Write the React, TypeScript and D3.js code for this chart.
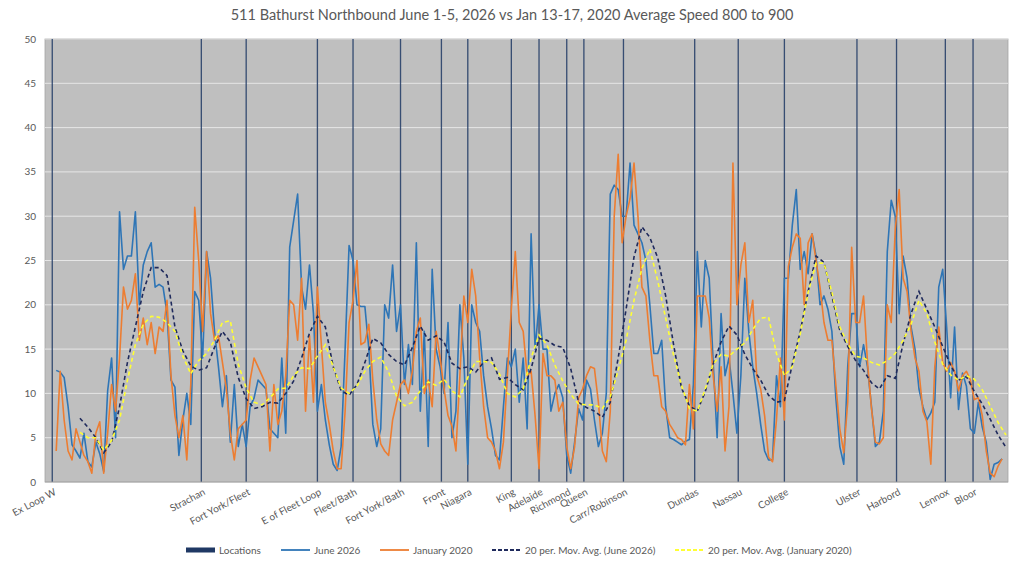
import React from "react";
import * as d3 from "d3";

// readings every 3rd segment, starting at segment 8
const june2026 = [
  12.6, 12.4, 11.8, 8.5, 4.2, 3.5, 2.7, 5.5, 2.3, 1.7,
  4.5, 3.2, 1.2, 10.3, 14, 5, 30.5, 24, 25.5, 25.5,
  30.5, 20, 24.5, 26, 27, 22, 22.3, 22, 19, 11.5,
  10.7, 3, 7, 10, 6.5, 21.5, 20.5, 14, 26, 23,
  17, 13, 8.5, 12, 4.5, 11, 4, 6.5, 4, 8.5,
  9.5, 11.5, 11, 10.5, 6, 5.5, 5, 14, 5.5, 26.5,
  29.5, 32.5, 22, 19.5, 24.5, 19, 8, 11, 7, 4.2,
  2, 1.3, 4, 15, 26.7, 25, 20, 19.8, 19.8, 15,
  6.5, 4, 6, 20, 18.5, 24.5, 17, 20, 11, 15.5,
  11, 27, 8, 17, 4, 24, 15, 13, 10, 18,
  5, 8, 20, 14, 2, 20, 18, 17, 12, 8.5,
  6, 3, 2.5, 8.5, 14, 13, 15, 9, 14, 6,
  28, 15, 20, 15, 15, 8, 10, 11, 9.5, 3,
  1, 4.5, 8.3, 7, 11.5, 10.5, 7, 4, 5.5, 10,
  32.5, 33.5, 33, 30, 30, 36, 29, 28, 27, 25,
  20, 14.5, 14.5, 16, 8.5, 5, 4.8, 4.5, 4.2, 4.6,
  4.8, 11, 26, 17.5, 25, 23, 13.5, 5, 19, 12,
  14, 10, 5.5, 12, 23, 17, 13, 10, 6.5, 3.5,
  2.5, 2.5, 12, 8.5, 23, 23, 29, 33, 24, 26,
  23.5, 28, 25.5, 20, 21, 19.5, 17, 9.5, 4, 2,
  13, 19, 19, 13, 15.5, 13, 8.5, 4, 4.5, 8,
  26, 31.8, 30, 19, 25.5, 23, 17.5, 15, 10.5, 8.5,
  7, 7.8, 9, 22, 24, 17.5, 9.5, 17.5, 8.2, 12.3,
  10.8, 6, 5.5, 9, 6.2, 4.5, 0.3, 2, 2.2, 2.6,
];

const january2020 = [
  3.5, 12.5, 7, 3.5, 2.5, 6, 4.5, 3, 2.3, 1,
  5.5, 6.8, 1, 5.5, 11, 8, 14, 22, 19.5, 20.5,
  23.5, 16, 18.5, 15.5, 18, 14.5, 17.5, 17, 20.5, 12,
  7.5, 5, 7.5, 2.5, 11, 31, 25, 17, 26, 19,
  16, 16.5, 13.5, 10.5, 5.5, 2.5, 6, 6.5, 7, 11.5,
  14, 13, 12, 11, 3.5, 11, 6.5, 8, 12, 20.5,
  20, 16, 23, 8, 16.5, 9, 22, 15.5, 9, 6.5,
  3.5, 1.5, 1.5, 8, 18, 20.5, 25, 15.5, 15.8, 17.8,
  11.5, 7, 4.3, 3.5, 3, 7, 9, 11, 11.5, 10,
  12.5, 17, 18.5, 10, 11.5, 8.5, 17, 14, 10.5, 7.5,
  6.3, 3.5, 12, 21, 18, 24, 21, 14, 8.5, 5,
  4.5, 3.5, 1.5, 4.5, 12, 19.5, 26, 18, 17, 12,
  12.5, 7.5, 1.5, 14.5, 12, 12, 11.5, 8, 9, 4,
  1.5, 4, 9.5, 10.5, 12, 13, 12.8, 9, 3.5, 2.3,
  8, 30, 37, 27, 30, 32, 36, 30, 22, 21,
  16, 12, 12, 8.5, 8, 6.5, 5.8, 5, 4.8, 4.2,
  11, 6, 21, 21, 21, 18.5, 12, 8, 13, 3.5,
  8.5, 36, 20, 24.5, 27, 18, 20.5, 12, 10.5, 7.5,
  2.8, 2.3, 7, 14, 7, 24.3, 26.5, 28, 27.5, 20,
  27, 28, 25, 22, 18, 16, 16, 11, 6, 3.3,
  9, 26.5, 18, 18, 21, 13.5, 8.3, 4.5, 4.3, 5,
  20, 18, 28.5, 33, 23, 21.5, 17, 14, 12.5, 8,
  6.8, 2, 13, 17.5, 13.5, 12.5, 13.5, 12.5, 10.3, 12,
  12.5, 11.5, 9.3, 9.5, 7.5, 3.5, 1, 0.6, 1.8, 2.6,
];

// moving averages read every 6th segment, starting at segment 26
const maJune2026 = [
  7.2, 6.2, 5, 3.3, 4.5, 8.5, 13.5, 17.5, 21.5, 24.2,
  24.2, 23.3, 17.5, 14.8, 13.1, 12.6, 12.9, 15.2, 17, 15.8,
  11.8, 9.4, 8.3, 8.5, 9, 8.9, 10, 11.4, 14, 16.8,
  18.7, 17.5, 13, 10.3, 9.8, 11, 13.5, 16.2, 15.7, 14.4,
  13.6, 13.2, 15.2, 17.6, 16, 16.5, 15.8, 13.4, 12.8, 13,
  12.4, 13.5, 14, 11.6, 11.8, 11, 10.4, 12.8, 16.2, 16,
  15.4, 15.2, 12.8, 9, 8.4, 8, 7.3, 9, 14, 19.5,
  25.4, 28.8, 27.6, 25.3, 21, 15.5, 10.6, 8.6, 8, 10.2,
  13.3, 15.8, 17.6, 16.6, 14.4, 12.8, 11.5, 9.8, 9, 9.2,
  13.3, 17, 21.5, 25.5, 24.8, 21, 17.1, 15.3, 13.7, 12.6,
  11.2, 10.5, 12, 11.7, 15.6, 19, 21.5, 19.5, 17.5, 15.3,
  13.2, 11.5, 11.9, 10.2, 8.8, 7.1, 5.3, 3.9,
];

const maJanuary2020 = [
  5.6, 5, 5, 3.6, 4.7, 7, 11.5, 15.5, 17.8, 18.7,
  18.6, 18, 17, 14.2, 12.2, 13.7, 14.5, 16, 18, 18.2,
  13.3, 10.6, 9, 8.7, 9.5, 10.5, 10.6, 12, 12.9, 12.8,
  14.2, 15.5, 13, 10.6, 10, 10.8, 12.5, 13.6, 14.1, 12.4,
  9.7, 8.6, 9, 10.3, 11.3, 10.9, 11.6, 10.3, 9.6, 11.8,
  13.6, 13.6, 13.5, 12.2, 10, 9.6, 10.5, 14, 16.6, 15.5,
  13.2, 11.4, 9.9, 8.8, 8.7, 8.7, 8.3, 9.6, 12.6, 16,
  20.5, 24.1, 26.3, 22.7, 18.5, 14.3, 10.9, 8.3, 8, 10.5,
  13.3, 14.4, 14.2, 15, 15.7, 17.2, 18.5, 18.6, 14.5, 12,
  13, 16.7, 21.4, 24.7, 24.7, 21.4, 17.5, 15.6, 14.2, 14,
  13.5, 13.2, 13.7, 14.5, 16, 17.8, 20.5, 19, 15.8, 13.3,
  12.1, 11.5, 12, 11.6, 10.4, 8.6, 6.7, 5.3,
];

const locationNames = [
  "Ex Loop W", "Strachan", "Fort York/Fleet", "E of Fleet Loop", "Fleet/Bath",
  "Fort York/Bath", "Front", "Niagara", "King", "Adelaide", "Richmond", "Queen",
  "Carr/Robinson", "Dundas", "Nassau", "College", "Ulster", "Harbord", "Lennox", "Bloor",
];
const locationSegments = [
  5, 118, 152, 206, 233, 269, 300, 320, 353, 374, 395, 408,
  438, 492, 525, 560, 615, 645, 682, 703,
];

const yTicks = [0, 5, 10, 15, 20, 25, 30, 35, 40, 45, 50];
const SEGMENTS = 730;

const W = 1024;
const H = 562;
const left = 45;
const right = 1008;
const top = 39;
const bottom = 482;
const font = "Lato, 'Open Sans', sans-serif";
const textColor = "#595959";

const App: React.FC = () => {
  const x = d3.scaleLinear().domain([-0.5, SEGMENTS - 0.5]).range([left, right]);
  const y = d3.scaleLinear().domain([0, 50]).range([bottom, top]);
  const band = (right - left) / SEGMENTS;

  const rawLine = d3
    .line<number>()
    .x((_, i) => x(8 + 3 * i))
    .y((d) => y(d));
  const maLine = d3
    .line<number>()
    .x((_, i) => x(26 + 6 * i))
    .y((d) => y(d));

  const legend = [
    { label: "Locations", kind: "bar", color: "#1F3864", x: 186 },
    { label: "June 2026", kind: "line", color: "#2E75B6", x: 281 },
    { label: "January 2020", kind: "line", color: "#ED7D31", x: 380 },
    { label: "20 per. Mov. Avg. (June 2026)", kind: "dash", color: "#1F2A5C", x: 492 },
    { label: "20 per. Mov. Avg. (January 2020)", kind: "dash", color: "#FFFF33", x: 675 },
  ];

  return (
    <div style={{ position: "absolute", left: 0, top: 0 }}>
      <svg width={W} height={H} style={{ display: "block", background: "#fff" }}>
        <text x={512} y={20} textAnchor="middle" fontFamily={font} fontSize={14.5} fill={textColor}>
          511 Bathurst Northbound June 1-5, 2026 vs Jan 13-17, 2020 Average Speed 800 to 900
        </text>

        <rect x={left} y={top} width={right - left} height={bottom - top} fill="#BFBFBF" stroke="#A6A6A6" strokeWidth={0.8} />

        {yTicks.map((t) => (
          <g key={t}>
            {t > 0 && <line x1={left} x2={right} y1={y(t)} y2={y(t)} stroke="#E6E6E6" strokeWidth={1} />}
            <text x={36} y={y(t)} dy="0.35em" textAnchor="end" fontFamily={font} fontSize={10} fill={textColor}>
              {t}
            </text>
          </g>
        ))}

        {/* location columns, value 50 */}
        {locationSegments.map((s, i) => (
          <rect
            key={locationNames[i]}
            x={x(s) - band / 2}
            y={y(50)}
            width={band}
            height={y(0) - y(50)}
            fill="#1F3864"
            opacity={0.85}
          />
        ))}

        <path d={rawLine(june2026) || ""} fill="none" stroke="#2E75B6" strokeWidth={1.6} strokeLinejoin="round" />
        <path d={rawLine(january2020) || ""} fill="none" stroke="#ED7D31" strokeWidth={1.6} strokeLinejoin="round" />
        <path d={maLine(maJune2026) || ""} fill="none" stroke="#1F2A5C" strokeWidth={1.6} strokeDasharray="4,3" />
        <path d={maLine(maJanuary2020) || ""} fill="none" stroke="#FFFF33" strokeWidth={1.6} strokeDasharray="4,3" />

        <line x1={left} x2={right} y1={bottom} y2={bottom} stroke="#A6A6A6" strokeWidth={0.8} />

        {locationSegments.map((s, i) => (
          <text
            key={"l" + i}
            transform={`translate(${x(s) + 3},${bottom + 9}) rotate(-28)`}
            textAnchor="end"
            dy="0.35em"
            fontFamily={font}
            fontSize={10}
            fill={textColor}
          >
            {locationNames[i]}
          </text>
        ))}

        {legend.map((l) => (
          <g key={l.label}>
            {l.kind === "bar" ? (
              <rect x={l.x} y={547.5} width={29} height={5} fill={l.color} />
            ) : (
              <line
                x1={l.x}
                x2={l.x + 29}
                y1={550}
                y2={550}
                stroke={l.color}
                strokeWidth={1.8}
                strokeDasharray={l.kind === "dash" ? "4,2" : undefined}
              />
            )}
            <text x={l.x + 33} y={550} dy="0.35em" fontFamily={font} fontSize={10} fill={textColor}>
              {l.label}
            </text>
          </g>
        ))}
      </svg>
    </div>
  );
};

export default App;
